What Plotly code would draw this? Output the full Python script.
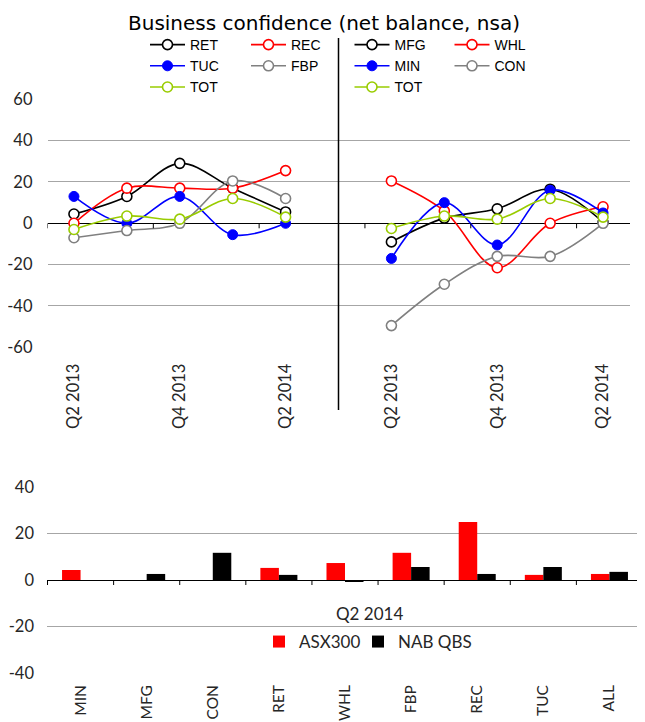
import plotly.graph_objects as go

# ---------------- data ----------------
quarters = ["Q2 2013", "Q3 2013", "Q4 2013", "Q1 2014", "Q2 2014"]
quarter_ticks = ["Q2 2013", "", "Q4 2013", "", "Q2 2014"]
top_yticks = [-60, -40, -20, 0, 20, 40, 60]
bottom_yticks = [-40, -20, 0, 20, 40]

# left panel
ret = [4.5, 13, 29, 17, 5.5]
rec = [0, 17, 17, 17, 25.5]
tuc = [13, 0, 13, -5.5, 0]
fbp = [-7, -3.5, 0, 20.5, 12]
tot_left = [-3, 3.5, 2, 12, 3]

# right panel
mfg = [-9, 2.5, 7, 16.5, 0.5]
whl = [20.5, 6, -21.5, 0, 8]
min_ = [-17, 10, -10.5, 16, 5]
con = [-49.5, -29.5, -16, -16, 0]
tot_right = [-2.5, 3.5, 2, 12, 3]

# bottom bar chart (Q2 2014)
bar_period = "Q2 2014"
sectors = ["MIN", "MFG", "CON", "RET", "WHL", "FBP", "REC", "TUC", "ALL"]
asx300 = [4.3, 0, 0, 5.2, 7.3, 11.7, 25, 2.2, 2.6]
nab_qbs = [0, 2.6, 11.7, 2.2, -0.6, 5.6, 2.6, 5.6, 3.5]

# ---------------- styling ----------------
# the page body has an 8px margin; lay the figure out in page pixels
OFF = 8
W, H = 645 - OFF, 722 - OFF
BLACK, RED, BLUE, GREY, GREEN = "#000000", "#ff0000", "#0000ff", "#808080", "#99cc00"
TICKFONT = dict(family="Lato", size=16.5, color="#262626")
SECTORFONT = dict(family="Lato", size=15.5, color="#262626")
LEGFONT = dict(family="Liberation Sans", size=14, color="#000000")
BARLEGFONT = dict(family="Lato", size=17, color="#262626")

n = len(quarters)
x_left = list(range(n))
x_right = [i + n + 1 for i in range(n)]
gap_pos = n  # divider position between panels


def px_x(p):
    return (p - OFF) / W


def px_y(p):
    return 1 - (p - OFF) / H


def open_marker(c):
    return dict(symbol="circle", size=10, color="white", line=dict(color=c, width=1.6))


def filled_marker(c):
    return dict(symbol="circle", size=10, color=c, line=dict(color=c, width=1))


fig = go.Figure()

left_series = [
    ("RET", ret, BLACK, open_marker, "legend"),
    ("REC", rec, RED, open_marker, "legend2"),
    ("TUC", tuc, BLUE, filled_marker, "legend"),
    ("FBP", fbp, GREY, open_marker, "legend2"),
    ("TOT", tot_left, GREEN, open_marker, "legend"),
]
right_series = [
    ("MFG", mfg, BLACK, open_marker, "legend3"),
    ("WHL", whl, RED, open_marker, "legend4"),
    ("MIN", min_, BLUE, filled_marker, "legend3"),
    ("CON", con, GREY, open_marker, "legend4"),
    ("TOT", tot_right, GREEN, open_marker, "legend3"),
]

for xs, series in ((x_left, left_series), (x_right, right_series)):
    for name, vals, col, mfn, leg in series:
        fig.add_trace(go.Scatter(
            x=xs, y=vals, name=name, mode="lines+markers",
            line=dict(color=col, width=1.6, shape="spline", smoothing=1),
            marker=mfn(col), legend=leg, xaxis="x", yaxis="y",
        ))

fig.add_trace(go.Bar(x=sectors, y=asx300, name="ASX300", marker_color=RED,
                     marker_line_width=0, legend="legend5", xaxis="x2", yaxis="y2"))
fig.add_trace(go.Bar(x=sectors, y=nab_qbs, name="NAB QBS", marker_color=BLACK,
                     marker_line_width=0, legend="legend6", xaxis="x2", yaxis="y2"))

# ---------------- shapes (axis tick marks on zero lines, divider) ----------------
shapes = []
for b in [-0.5, 1.5, 3.5, 5.5, 7.5, 9.5]:
    shapes.append(dict(type="line", xref="x", yref="y", x0=b, x1=b,
                       ysizemode="pixel", yanchor=0, y0=0, y1=-5,
                       line=dict(color="black", width=1)))
for i in range(len(sectors) + 1):
    b = i - 0.5
    shapes.append(dict(type="line", xref="x2", yref="y2", x0=b, x1=b,
                       ysizemode="pixel", yanchor=0, y0=0, y1=-5,
                       line=dict(color="black", width=1)))
shapes.append(dict(type="line", xref="x", yref="paper", x0=gap_pos, x1=gap_pos,
                   y0=px_y(410), y1=px_y(38), line=dict(color="black", width=1.5)))


def leg(xpx, ytop):
    return dict(x=px_x(xpx), y=px_y(ytop), xanchor="left", yanchor="top",
                orientation="v", font=LEGFONT, bgcolor="rgba(0,0,0,0)",
                itemwidth=35, tracegroupgap=0, traceorder="normal")


def barleg(xpx):
    return dict(x=px_x(xpx), y=px_y(642), xanchor="left", yanchor="middle",
                orientation="h", bgcolor="rgba(0,0,0,0)", font=BARLEGFONT)


fig.update_layout(
    template="none",
    width=W, height=H,
    margin=dict(l=0, r=0, t=0, b=0, pad=0, autoexpand=False),
    paper_bgcolor="white", plot_bgcolor="white",
    title=dict(text="Business confidence (net balance, nsa)",
               x=px_x(324), xanchor="center", y=px_y(23), yanchor="middle",
               yref="container", automargin=False,
               font=dict(family="DejaVu Sans", size=20, color="#000000")),
    xaxis=dict(domain=[px_x(47.5), px_x(629.5)], range=[-0.5, 10.5],
               tickmode="array", tickvals=x_left + x_right,
               ticktext=quarter_ticks + quarter_ticks,
               tickangle=-90, ticks="", showgrid=False, zeroline=False,
               showline=False, tickfont=TICKFONT, ticklabelstandoff=12,
               anchor="y", automargin=False),
    yaxis=dict(domain=[px_y(347.3), px_y(99.3)], range=[-60, 60],
               tickmode="array", tickvals=top_yticks,
               ticktext=[str(v) for v in top_yticks],
               gridcolor="#a6a6a6", gridwidth=1, zeroline=True,
               zerolinecolor="black", zerolinewidth=1.2, showline=False, ticks="",
               tickfont=TICKFONT, ticklabelstandoff=14, anchor="x", automargin=False),
    xaxis2=dict(domain=[px_x(47), px_x(643)], type="category",
                tickangle=-90, ticks="", showgrid=False, zeroline=False,
                showline=False, tickfont=SECTORFONT, ticklabelstandoff=8,
                anchor="y2", automargin=False),
    yaxis2=dict(domain=[px_y(673), px_y(487)], range=[-40, 40],
                tickmode="array", tickvals=bottom_yticks,
                ticktext=[str(v) for v in bottom_yticks],
                gridcolor="#a6a6a6", gridwidth=1, zeroline=True,
                zerolinecolor="black", zerolinewidth=1.2, showline=False, ticks="",
                tickfont=TICKFONT, ticklabelstandoff=12, anchor="x2", automargin=False),
    barmode="group", bargap=0.44, bargroupgap=0,
    legend=leg(145, 29),
    legend2=leg(246, 29),
    legend3=leg(349.5, 29),
    legend4=leg(449.5, 29),
    legend5=barleg(259),
    legend6=barleg(358),
    annotations=[dict(text=bar_period, x=px_x(370), y=px_y(613), xref="paper",
                      yref="paper", xanchor="center", yanchor="middle",
                      showarrow=False, font=BARLEGFONT)],
    shapes=shapes,
    showlegend=True,
)

fig.write_html("out.html")
